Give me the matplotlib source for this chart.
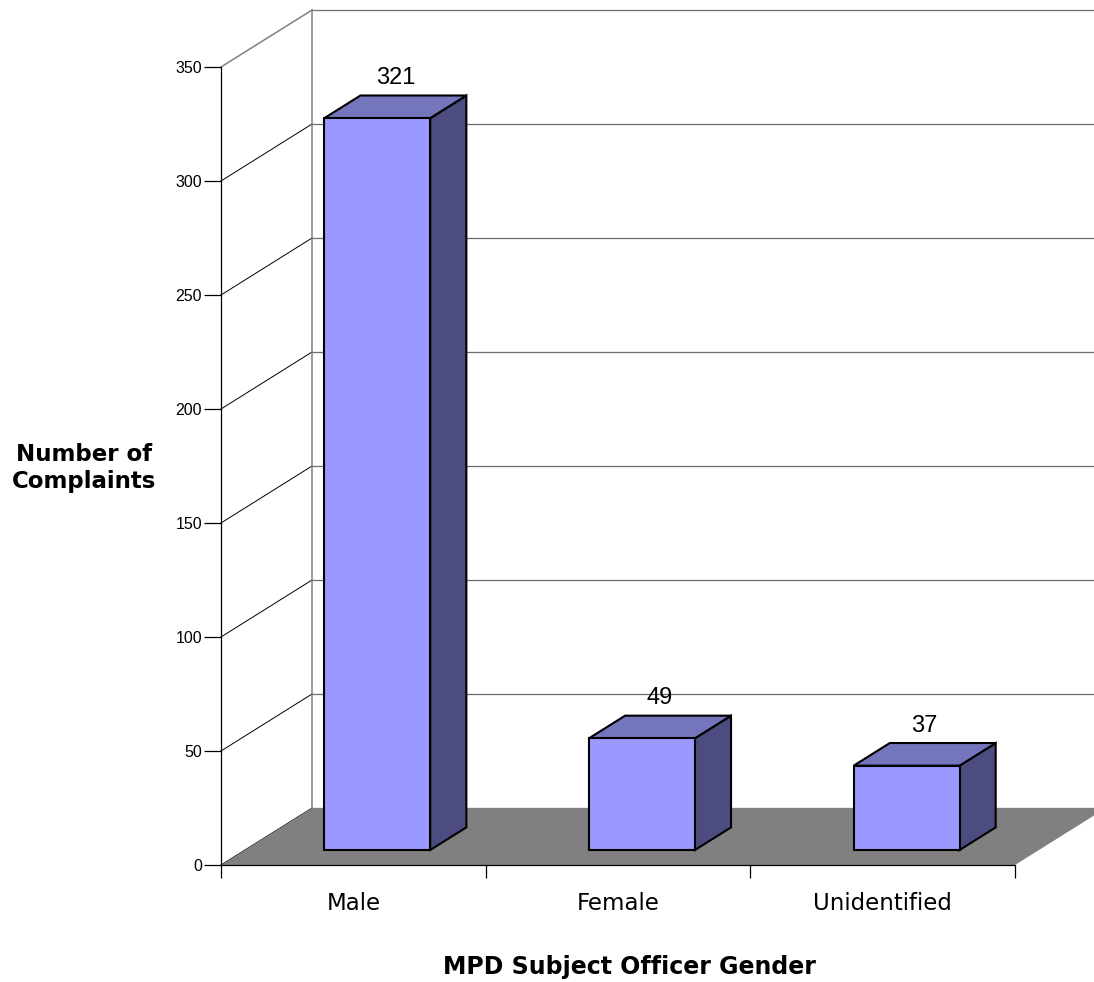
import matplotlib.pyplot as plt
from matplotlib.patches import Polygon
from matplotlib import transforms

categories = ["Male", "Female", "Unidentified"]
complaints = [321, 49, 37]
y_ticks = [0, 50, 100, 150, 200, 250, 300, 350]

x_title = "MPD Subject Officer Gender"
y_title = "Number of\nComplaints"

W, H, DPI = 1094, 982, 100

# oblique depth of the chart box, in data units
DEPTH_X = 0.344
DEPTH_Y = 25.0
BAR_WIDTH = 0.4
BAR_FRONT = 0.263   # bar front / back as a fraction of the box depth
BAR_BACK = 0.66

FRONT_COLOR = "#9999FF"
TOP_COLOR = "#7575BD"
SIDE_COLOR = "#4C4C80"
FLOOR_COLOR = "#808080"
WALL_COLOR = "#808080"

plt.rcParams["font.family"] = ["Liberation Sans", "DejaVu Sans"]


def depth(x, y, d):
    return (x + d * DEPTH_X, y + d * DEPTH_Y)


fig = plt.figure(figsize=(W / DPI, H / DPI), dpi=DPI)
ax = fig.add_axes([221 / W, 117 / H, 794 / W, 798 / H])
n = len(categories)
ax.set_xlim(0, n)
ax.set_ylim(0, y_ticks[-1])

# floor
floor = Polygon(
    [depth(0, 0, 0), depth(n, 0, 0), depth(n, 0, 1), depth(0, 0, 1)],
    closed=True, facecolor=FLOOR_COLOR, edgecolor="none",
    clip_on=False, zorder=1)
ax.add_patch(floor)

# back wall gridlines and left wall diagonals
for v in y_ticks:
    bx, by = depth(0, v, 1)
    ax.plot([bx, n + DEPTH_X], [by, by], color="#6E6E6E", lw=0.9,
            clip_on=False, zorder=0.8)
    ax.plot([0, bx], [v, by],
            color=WALL_COLOR if v == y_ticks[-1] else "black",
            lw=1.1 if v == y_ticks[-1] else 0.7,
            clip_on=False, zorder=0.9)

ax.plot([DEPTH_X, DEPTH_X], [DEPTH_Y, y_ticks[-1] + DEPTH_Y],
        color=WALL_COLOR, lw=1.1, clip_on=False, zorder=0.9)

# 3-D bars
for i, v in enumerate(complaints):
    x0 = i + 0.5 - BAR_WIDTH / 2
    x1 = i + 0.5 + BAR_WIDTH / 2
    f, b = BAR_FRONT, BAR_BACK

    side = [depth(x1, 0, f), depth(x1, 0, b), depth(x1, v, b), depth(x1, v, f)]
    top = [depth(x0, v, f), depth(x1, v, f), depth(x1, v, b), depth(x0, v, b)]
    front = [depth(x0, 0, f), depth(x1, 0, f), depth(x1, v, f), depth(x0, v, f)]

    for pts, color in [(side, SIDE_COLOR), (top, TOP_COLOR), (front, FRONT_COLOR)]:
        ax.add_patch(Polygon(pts, closed=True, facecolor=color,
                             edgecolor="black", lw=1.5, joinstyle="miter",
                             clip_on=False, zorder=3))

    lx, ly = depth((x0 + x1) / 2, v, (f + b) / 2)
    ax.text(lx, v + b * DEPTH_Y + 5, str(v), ha="center", va="baseline",
            fontsize=17, color="black", zorder=4)

# axes
for side in ["top", "right"]:
    ax.spines[side].set_visible(False)
for side in ["left", "bottom"]:
    ax.spines[side].set_linewidth(0.9)
    ax.spines[side].set_zorder(2)

ax.set_yticks(y_ticks)
ax.tick_params(axis="y", length=12, width=0.9, pad=1.5, labelsize=11.5)

ax.set_xticks(range(n + 1))
ax.set_xticklabels([])
ax.tick_params(axis="x", length=9.4, width=0.9)

label_trans = transforms.offset_copy(ax.get_xaxis_transform(), fig=fig,
                                     y=-45, units="dots")
for i, name in enumerate(categories):
    ax.text(i + 0.5, 0, name, transform=label_trans, ha="center",
            va="baseline", fontsize=16.5, family="DejaVu Sans")

fig.text(84 / W, 1 - 468 / H, y_title, ha="center", va="center",
         multialignment="center", fontsize=16.5, fontweight="bold",
         family="DejaVu Sans")
fig.text(629 / W, (H - 974) / H, x_title, ha="center", va="baseline",
         fontsize=17, fontweight="bold", family="DejaVu Sans")

fig.savefig("out.png", dpi=DPI)
